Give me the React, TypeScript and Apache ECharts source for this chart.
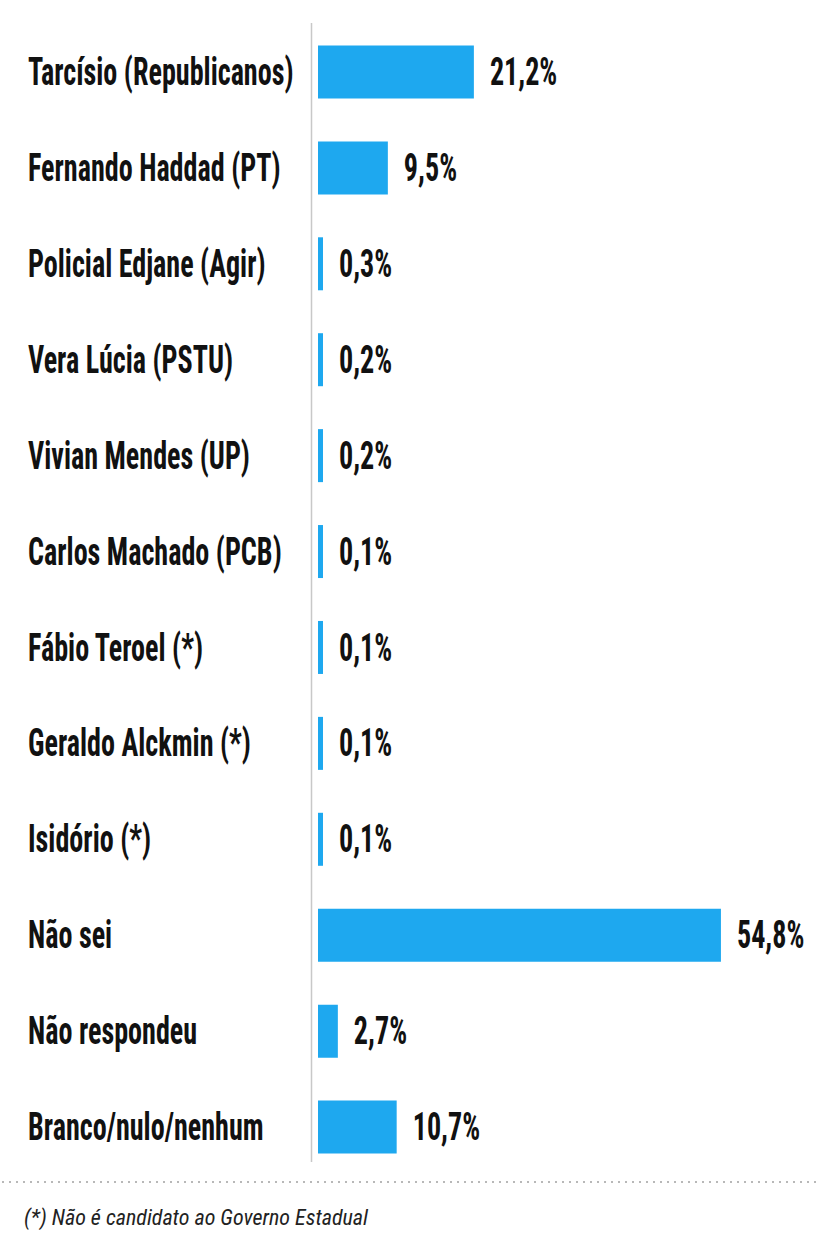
import React, { useEffect, useRef } from "react";
import * as echarts from "echarts";

const categories = [
  "Tarcísio (Republicanos)",
  "Fernando Haddad (PT)",
  "Policial Edjane (Agir)",
  "Vera Lúcia (PSTU)",
  "Vivian Mendes (UP)",
  "Carlos Machado (PCB)",
  "Fábio Teroel (*)",
  "Geraldo Alckmin (*)",
  "Isidório (*)",
  "Não sei",
  "Não respondeu",
  "Branco/nulo/nenhum",
];
const values = [21.2, 9.5, 0.3, 0.2, 0.2, 0.1, 0.1, 0.1, 0.1, 54.8, 2.7, 10.7];
const footnote = "(*) Não é candidato ao Governo Estadual";

const fmt = (v: number) => v.toFixed(1).replace(".", ",") + "%";

const FONT = "'Roboto Condensed', 'Open Sans Condensed', sans-serif";
const BAR_COLOR = "#1EA8EF";
const MIN_BAR = 5;

export default function App() {
  const ref = useRef<HTMLDivElement>(null);
  useEffect(() => {
    document.body.style.margin = "0";
    const chart = echarts.init(ref.current!, undefined, { renderer: "svg" });
    chart.setOption({
      animation: false,
      backgroundColor: "#ffffff",
      grid: { left: 318, right: 22, top: 24, bottom: 85, containLabel: false },
      xAxis: {
        type: "value",
        min: 0,
        max: 68,
        show: false,
        splitLine: { show: false },
      },
      yAxis: {
        type: "category",
        inverse: true,
        data: categories,
        axisLine: { show: false },
        axisTick: { show: false },
        axisLabel: { show: false },
      },
      series: [
        {
          type: "bar",
          data: values,
          barWidth: 53,
          barMinHeight: MIN_BAR,
          itemStyle: { color: BAR_COLOR },
          silent: true,
        },
        {
          type: "custom",
          clip: false,
          silent: true,
          data: categories.map((_, i) => [0, i]),
          renderItem: (params: any, api: any) => {
            const p = api.coord([0, api.value(1)]);
            return {
              type: "text",
              x: 28,
              y: p[1],
              scaleX: 0.74,
              style: {
                text: categories[params.dataIndex],
                fontFamily: FONT,
                fontWeight: "bold",
                fontSize: 38,
                fill: "#111111",
                align: "left",
                verticalAlign: "middle",
              },
            };
          },
        },
        {
          type: "custom",
          clip: false,
          silent: true,
          data: values.map((v, i) => [v, i]),
          renderItem: (params: any, api: any) => {
            const i = api.value(1);
            const v = api.value(0);
            const x0 = api.coord([0, i])[0];
            const p = api.coord([v, i]);
            const end = Math.max(p[0], x0 + MIN_BAR);
            return {
              type: "text",
              x: end + 16,
              y: p[1],
              scaleX: 0.74,
              style: {
                text: fmt(values[params.dataIndex]),
                fontFamily: FONT,
                fontWeight: "bold",
                fontSize: 38,
                fill: "#111111",
                align: "left",
                verticalAlign: "middle",
              },
            };
          },
        },
      ],
      graphic: [
        {
          type: "line",
          silent: true,
          shape: { x1: 311.5, y1: 23, x2: 311.5, y2: 1162 },
          style: { stroke: "#c8c8c8", lineWidth: 1.5 },
        },
        {
          type: "line",
          silent: true,
          shape: { x1: 2, y1: 1182, x2: 816, y2: 1182 },
          style: { stroke: "#b8b8b8", lineWidth: 2, lineDash: [2, 5] },
        },
        {
          type: "text",
          silent: true,
          x: 24,
          y: 1217,
          style: {
            text: footnote,
            fontFamily: FONT,
            fontStyle: "italic",
            fontSize: 22,
            fill: "#222222",
            align: "left",
            verticalAlign: "middle",
          },
        },
      ],
    });
    return () => chart.dispose();
  }, []);
  return <div ref={ref} style={{ width: 840, height: 1260 }} />;
}
